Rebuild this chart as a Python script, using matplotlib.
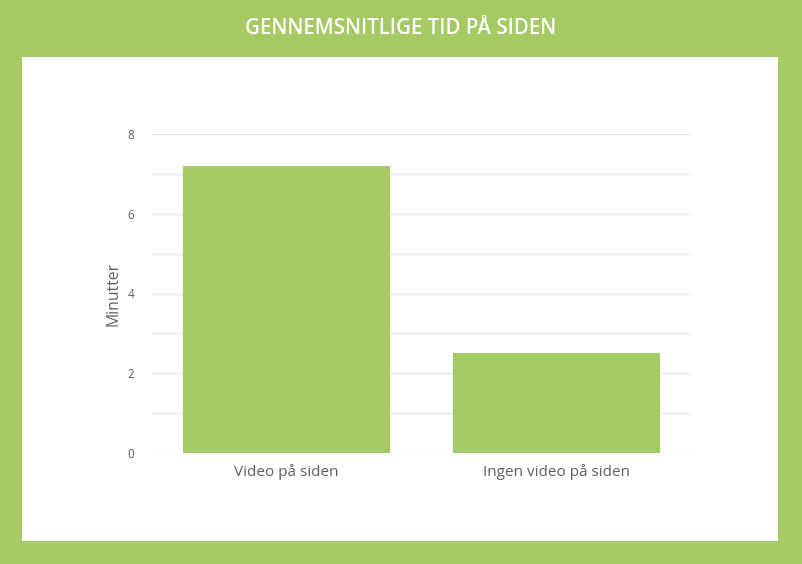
import matplotlib.pyplot as plt
from matplotlib.patches import Rectangle

# data
categories = ['Video på siden', 'Ingen video på siden']
minutes = [7.2, 2.5]
y_ticks = [0, 2, 4, 6, 8]

green = '#a5c963'
plt.rcParams['font.family'] = ['Open Sans', 'DejaVu Sans']

fig = plt.figure(figsize=(8.02, 5.64), dpi=100)
fig.patch.set_facecolor(green)

# white panel behind the axes
fig.patches.append(Rectangle((22 / 802, 1 - 541 / 564), 756 / 802, 484 / 564,
                             transform=fig.transFigure, facecolor='white',
                             edgecolor='none', zorder=-10))

fig.text(0.5, 1 - 29 / 564, 'GENNEMSNITLIGE TID PÅ SIDEN', color='white',
         fontsize=14.8, fontweight='semibold', ha='center', va='center')

ax = fig.add_axes([152 / 802, 111 / 564, 539 / 802, 319 / 564])
ax.set_facecolor('none')
ax.bar(range(len(categories)), minutes, width=0.767, color=green, zorder=2)
ax.set_xlim(-0.5, 1.5)
ax.set_ylim(0, 8)
ax.set_xticks(range(len(categories)))
ax.set_xticklabels(categories, fontsize=11, color='#5f5f5f')
ax.set_yticks(y_ticks)
ax.set_yticklabels([str(t) for t in y_ticks], fontsize=8.5, color='#5f5f5f')
ax.set_yticks(range(0, 9), minor=True)
ax.grid(axis='y', which='both', color='#e6e6e6', linewidth=1, zorder=1)
ax.tick_params(axis='both', which='both', length=0)
ax.tick_params(axis='y', pad=13)
ax.tick_params(axis='x', pad=8)
ax.set_ylabel('Minutter', fontsize=11.3, color='#5f5f5f', labelpad=4)
for s in ax.spines.values():
    s.set_visible(False)

fig.savefig('out.png', dpi=100, facecolor=fig.get_facecolor())
